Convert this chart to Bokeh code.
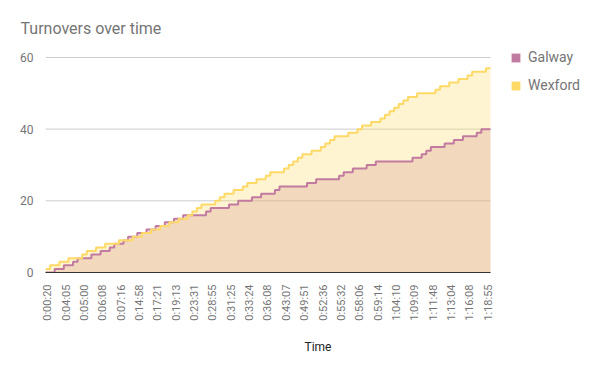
import math
from bokeh.plotting import figure
from bokeh.models import Range1d, FixedTicker, Legend, LegendItem
from bokeh.embed import file_html
from bokeh.resources import INLINE

# Tick labels (every 4th event is labelled)
time_labels = ["0:00:20", "0:04:05", "0:05:00", "0:06:08", "0:07:16", "0:14:58",
               "0:17:21", "0:19:13", "0:23:31", "0:28:55", "0:31:25", "0:33:24",
               "0:36:08", "0:43:07", "0:49:51", "0:52:36", "0:55:32", "0:58:06",
               "0:59:14", "1:04:10", "1:09:09", "1:11:48", "1:13:04", "1:16:08",
               "1:18:55"]
label_every = 4

# Cumulative turnovers per event
galway = [0, 0, 1, 1, 2, 2, 3, 4, 4, 4,
          5, 5, 6, 6, 7, 8, 8, 9, 10, 10,
          11, 11, 12, 12, 13, 13, 14, 14, 15, 15,
          16, 16, 16, 16, 16, 17, 18, 18, 18, 18,
          19, 19, 20, 20, 20, 21, 21, 22, 22, 22,
          23, 24, 24, 24, 24, 24, 24, 25, 25, 26,
          26, 26, 26, 26, 27, 28, 28, 29, 29, 29,
          30, 30, 31, 31, 31, 31, 31, 31, 31, 31,
          32, 32, 33, 34, 35, 35, 35, 36, 36, 37,
          37, 38, 38, 38, 39, 40, 40]
wexford = [1, 2, 2, 3, 3, 4, 4, 4, 5, 6,
           6, 7, 7, 8, 8, 8, 9, 9, 9, 10,
           10, 11, 11, 12, 12, 13, 13, 14, 14, 15,
           15, 16, 17, 18, 19, 19, 19, 20, 21, 22,
           22, 23, 23, 24, 25, 25, 26, 26, 27, 28,
           28, 28, 29, 30, 31, 32, 33, 33, 34, 34,
           35, 36, 37, 38, 38, 38, 39, 39, 40, 41,
           41, 42, 42, 43, 44, 45, 46, 47, 48, 49,
           49, 50, 50, 50, 50, 51, 52, 52, 53, 53,
           54, 54, 55, 56, 56, 56, 57]

series_names = ["Galway", "Wexford"]
series_colors = ["#c27ba0", "#ffd966"]
y_ticks = [0, 20, 40, 60]

n = len(galway)
x_edges = [i - 0.5 for i in range(n)] + [n - 0.5]

# frame extends to the right so the legend (drawn inside the frame) is visible
p = figure(width=600, height=371, output_backend="svg", toolbar_location=None,
           x_range=Range1d(-0.5, 118.3), y_range=Range1d(0, 62.5),
           min_border_left=45, min_border_right=10, min_border_top=48,
           min_border_bottom=99)
p.outline_line_color = None
p.background_fill_color = "white"
p.xgrid.visible = False
p.ygrid.visible = False

# horizontal gridlines limited to the data area
p.segment(x0=[-0.5] * len(y_ticks), x1=[n - 0.5] * len(y_ticks),
          y0=y_ticks, y1=y_ticks, line_color="#cccccc", line_width=1)

for vals, col in zip([galway, wexford], series_colors):
    y = list(vals) + [vals[-1]]
    p.varea_step(x=x_edges, y1=[0] * len(y), y2=y, step_mode="after",
                 fill_color=col, fill_alpha=0.3)
for vals, col in zip([galway, wexford], series_colors):
    y = list(vals) + [vals[-1]]
    p.step(x=x_edges, y=y, mode="after", line_color=col, line_width=2)

# Legend swatches: zero-area solid areas (draw nothing in the plot, but give
# the legend a solid square)
items = []
for name, col in zip(series_names, series_colors):
    r = p.varea(x=[x_edges[0]], y1=[0], y2=[0], fill_color=col, fill_alpha=1)
    items.append(LegendItem(label=name, renderers=[r]))
legend = Legend(items=items, location=(465, 179), orientation="vertical",
                padding=0, margin=0, spacing=12, glyph_width=11, glyph_height=11,
                label_height=11, label_standoff=7, border_line_color=None,
                background_fill_alpha=0, label_text_font="Roboto",
                label_text_font_size="14px", label_text_color="#757575")
p.add_layout(legend, "center")

# Title
p.title.text = "Turnovers over time"
p.title.text_font = "Roboto"
p.title.text_font_size = "16px"
p.title.text_font_style = "normal"
p.title.text_color = "#757575"
p.title.align = "left"
p.title.offset = -25
p.title.standoff = 21

# Axes
p.yaxis.ticker = FixedTicker(ticks=y_ticks)
p.yaxis.axis_line_color = None
p.yaxis.major_tick_line_color = None
p.yaxis.minor_tick_line_color = None
p.yaxis.major_label_text_font = "Roboto"
p.yaxis.major_label_text_font_size = "12px"
p.yaxis.major_label_text_color = "#757575"
p.yaxis.major_label_standoff = 6

tick_pos = list(range(0, n, label_every))
p.xaxis.ticker = FixedTicker(ticks=tick_pos)
p.xaxis.bounds = (-0.5, n - 0.5)
p.xaxis.major_label_overrides = {t: lab for t, lab in zip(tick_pos, time_labels)}
p.xaxis.major_label_orientation = math.pi / 2
p.xaxis.axis_line_color = "#333333"
p.xaxis.major_tick_line_color = None
p.xaxis.minor_tick_line_color = None
p.xaxis.major_label_text_font = "Roboto"
p.xaxis.major_label_text_font_size = "11px"
p.xaxis.major_label_text_color = "#757575"
p.xaxis.major_label_standoff = 6
p.xaxis.axis_label = "Time"
p.xaxis.axis_label_text_font = "Roboto"
p.xaxis.axis_label_text_font_size = "12px"
p.xaxis.axis_label_text_font_style = "normal"
p.xaxis.axis_label_text_color = "#222222"
p.xaxis.axis_label_standoff = 16

open("out.html", "w").write(file_html(p, INLINE))
